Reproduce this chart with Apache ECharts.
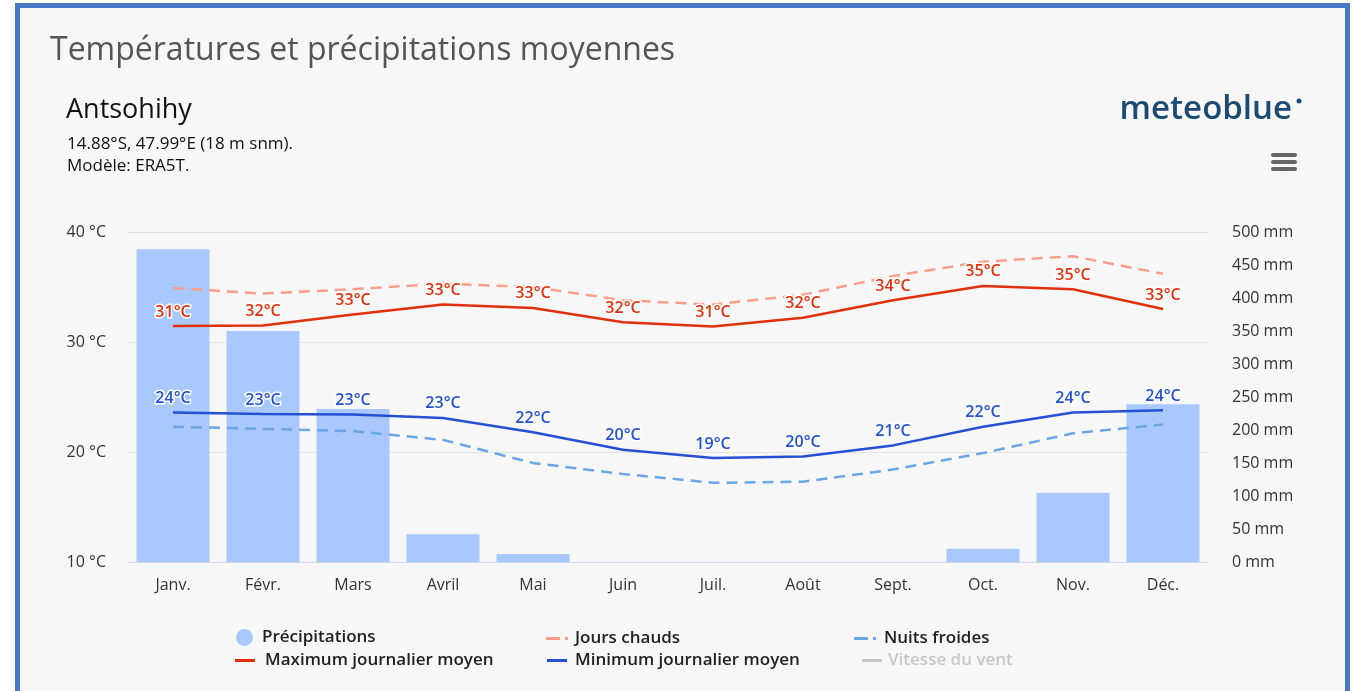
<!DOCTYPE html>
<html>
<head>
<meta charset="utf-8">
<script src="https://cdn.jsdelivr.net/npm/echarts@6/dist/echarts.min.js"></script>
<style>
  html, body { margin: 0; padding: 0; background: #fff; }
  .frame {
    position: absolute; left: 15px; top: 3px; width: 1325px; height: 700px;
    background: #f7f7f7; border: 5px solid #4a78c8; border-bottom: none;
  }
  #chart { position: absolute; left: 0; top: 0; width: 1355px; height: 691px; }
</style>
</head>
<body>
<div class="frame"></div>
<div id="chart"></div>
<script>
const months = ["Janv.", "Févr.", "Mars", "Avril", "Mai", "Juin", "Juil.", "Août", "Sept.", "Oct.", "Nov.", "Déc."];
const precipitation = [474, 350, 232, 42, 12, 0, 0, 0, 0, 20, 105, 239];
const hotDays = [34.9, 34.4, 34.8, 35.3, 35.0, 33.8, 33.4, 34.3, 36.0, 37.3, 37.8, 36.2];
const maxTemp = [31.45, 31.5, 32.5, 33.4, 33.1, 31.8, 31.4, 32.2, 33.8, 35.1, 34.8, 33.0];
const minTemp = [23.6, 23.45, 23.4, 23.1, 21.8, 20.2, 19.45, 19.6, 20.6, 22.3, 23.6, 23.8];
const coldNights = [22.3, 22.1, 21.9, 21.1, 19.0, 18.0, 17.2, 17.3, 18.4, 19.9, 21.7, 22.5];
const tempTicks = [10, 20, 30, 40];
const precipTicks = [0, 50, 100, 150, 200, 250, 300, 350, 400, 450, 500];

const font = "'Open Sans', 'Noto Sans', sans-serif";
const chart = echarts.init(document.getElementById("chart"));

const dashIcon = "path://M0,0h14v3h-14zM19,0h3v3h-3z";
const lineIcon = "path://M0,0h20v3h-20z";

const legendBase = {
  orient: "horizontal",
  itemHeight: 3,
  inactiveColor: "#c8c8c8",
  textStyle: { fontFamily: font, fontSize: 17, fontWeight: 600, color: "#222" },
};
const mkLegend = (name, icon, left, top, pad, extra) =>
  Object.assign({}, legendBase, {
    data: [{ name: name, icon: icon }], left: left, top: top, itemWidth: 22,
    textStyle: Object.assign({}, legendBase.textStyle, { padding: [0, 0, 0, pad] }),
  }, extra || {});

const labelStyle = (color) => ({
  show: true,
  position: "top",
  distance: 6,
  color: color,
  fontFamily: font,
  fontSize: 16,
  fontWeight: 600,
  textBorderColor: "#fff",
  textBorderWidth: 3,
  formatter: (p) => Math.round(p.value) + "°C",
});

const option = {
  backgroundColor: "transparent",
  animation: false,
  title: [
    { text: "Températures et précipitations moyennes", left: 45, top: 30,
      textStyle: { fontFamily: font, fontSize: 32, fontWeight: "normal", color: "#555" } },
    { text: "Antsohihy", left: 61, top: 92,
      textStyle: { fontFamily: font, fontSize: 27, fontWeight: "normal", color: "#111" } },
    { text: "14.88°S, 47.99°E (18 m snm).\nModèle: ERA5T.", left: 62, top: 128,
      textStyle: { fontFamily: font, fontSize: 17, fontWeight: "normal", color: "#111", lineHeight: 22 } },
    { text: "meteoblue", right: 58, top: 88,
      textStyle: { fontFamily: font, fontSize: 33, fontWeight: 600, color: "#1b4a72" } },
  ],
  graphic: [
    { type: "rect", shape: { x: 1271, y: 153, width: 26, height: 4, r: 2 }, style: { fill: "#666" } },
    { type: "rect", shape: { x: 1271, y: 160, width: 26, height: 4, r: 2 }, style: { fill: "#666" } },
    { type: "rect", shape: { x: 1271, y: 167, width: 26, height: 4, r: 2 }, style: { fill: "#666" } },
    { type: "circle", shape: { cx: 1299, cy: 101, r: 2.5 }, style: { fill: "#1b4a72" } },
  ],
  legend: [
    mkLegend("Précipitations", "circle", 231, 624, 4, { itemWidth: 17, itemHeight: 19 }),
    mkLegend("Jours chauds", dashIcon, 541, 625, 2),
    mkLegend("Nuits froides", dashIcon, 849, 625, 3),
    mkLegend("Maximum journalier moyen", lineIcon, 230, 647, 4),
    mkLegend("Minimum journalier moyen", lineIcon, 542, 647, 2),
    mkLegend("Vitesse du vent", lineIcon, 857, 647, 1, { itemWidth: 20, selected: { "Vitesse du vent": false } }),
  ],
  grid: { left: 128, right: 147, top: 232, bottom: 129 },
  xAxis: {
    type: "category",
    data: months,
    axisLine: { lineStyle: { color: "#ccd6eb", width: 1 } },
    axisTick: { show: false },
    axisLabel: { fontFamily: font, fontSize: 16, color: "#333", margin: 15 },
  },
  yAxis: [
    {
      type: "value", min: tempTicks[0], max: tempTicks[tempTicks.length - 1], interval: 10,
      axisLine: { show: false }, axisTick: { show: false },
      splitLine: { lineStyle: { color: "#e3e3e3", width: 1 } },
      axisLabel: { fontFamily: font, fontSize: 16, color: "#333", margin: 22, formatter: "{value} °C" },
    },
    {
      type: "value", min: precipTicks[0], max: precipTicks[precipTicks.length - 1], interval: 50,
      axisLine: { show: false }, axisTick: { show: false }, splitLine: { show: false },
      axisLabel: { fontFamily: font, fontSize: 16, color: "#333", margin: 24, formatter: "{value} mm" },
    },
  ],
  series: [
    {
      name: "Précipitations", type: "bar", yAxisIndex: 1, data: precipitation,
      barWidth: 73, itemStyle: { color: "#a9c8fd" }, z: 1,
    },
    {
      name: "Jours chauds", type: "line", data: hotDays, symbol: "none",
      lineStyle: { color: "#fa9f8c", width: 2.5, type: [11, 7] }, itemStyle: { color: "#fa9f8c" }, z: 2,
    },
    {
      name: "Nuits froides", type: "line", data: coldNights, symbol: "none",
      lineStyle: { color: "#6ba6e6", width: 2.5, type: [11, 7] }, itemStyle: { color: "#6ba6e6" }, z: 2,
    },
    {
      name: "Maximum journalier moyen", type: "line", data: maxTemp, symbol: "circle", symbolSize: 0,
      lineStyle: { color: "#e0300c", width: 2.5 }, itemStyle: { color: "#e0300c" },
      label: labelStyle("#e0300c"), z: 3,
    },
    {
      name: "Minimum journalier moyen", type: "line", data: minTemp, symbol: "circle", symbolSize: 0,
      lineStyle: { color: "#2450d3", width: 2.5 }, itemStyle: { color: "#2450d3" },
      label: labelStyle("#2450d3"), z: 3,
    },
    {
      name: "Vitesse du vent", type: "line", data: [], symbol: "none",
      lineStyle: { color: "#999", width: 2.5 }, itemStyle: { color: "#999" },
    },
  ],
};

chart.setOption(option);
</script>
</body>
</html>
